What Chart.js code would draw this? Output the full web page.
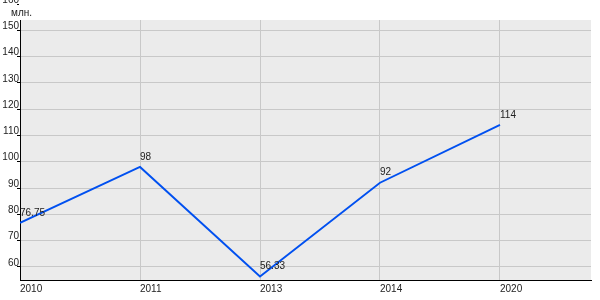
<!DOCTYPE html>
<html><head><meta charset="utf-8">
<script src="https://cdn.jsdelivr.net/npm/chart.js@4"></script>
<style>html,body{margin:0;padding:0;background:#fff}#w{width:600px;height:300px}</style>
</head><body><div id="w"><canvas id="c"></canvas></div>
<script>
const categories = ['2010', '2011', '2013', '2014', '2020'];
const values = [76.75, 98, 56.33, 92, 114];
const valueLabels = ['76.75', '98', '56.33', '92', '114'];
const unitLabel = 'млн.';

const FONT = '"Liberation Sans", Arial, sans-serif';

const bgPlugin = {
  id: 'bg',
  beforeDraw(chart) {
    const {ctx, chartArea: a} = chart;
    ctx.save();
    ctx.fillStyle = '#ebebeb';
    ctx.fillRect(a.left, a.top, a.right - a.left, a.bottom - a.top);
    ctx.restore();
  },
  afterDraw(chart) {
    const {ctx, chartArea: a} = chart;
    ctx.save();
    ctx.fillStyle = '#ffffff';
    ctx.fillRect(a.left - 1, 0, 600, 20);
    ctx.fillStyle = '#222';
    ctx.font = '10px ' + FONT;
    ctx.textAlign = 'left';
    ctx.textBaseline = 'middle';
    ctx.fillText(unitLabel, 11, 13);
    const meta = chart.getDatasetMeta(0);
    meta.data.forEach((p, i) => {
      ctx.fillText(valueLabels[i], p.x, p.y - 10);
    });
    ctx.restore();
  }
};

new Chart(document.getElementById('c'), {
  type: 'line',
  data: {
    datasets: [{
      data: values.map((v, i) => ({x: i, y: v})),
      borderColor: '#0050f0',
      borderWidth: 1.9,
      pointRadius: 0,
      tension: 0,
      fill: false
    }]
  },
  options: {
    responsive: true,
    maintainAspectRatio: false,
    animation: false,
    layout: {padding: {top: 3, right: 9, left: 0, bottom: 0}},
    plugins: {legend: {display: false}, tooltip: {enabled: false}},
    scales: {
      x: {
        type: 'linear',
        min: 0,
        max: 571 / 120,
        afterBuildTicks(s) { s.ticks = categories.map((c, i) => ({value: i})); },
        afterFit(s) { s.height = 20; },
        border: {color: '#000', width: 1},
        grid: {color: '#c8c8c8', drawTicks: false},
        ticks: {
          autoSkip: false,
          maxRotation: 0,
          align: 'start',
          padding: 3,
          color: '#222',
          font: {family: FONT, size: 10},
          callback: (v) => categories[v] ?? ''
        }
      },
      y: {
        min: 55,
        max: 160,
        afterBuildTicks(s) {
          const t = [];
          for (let v = 60; v <= 160; v += 10) t.push({value: v});
          s.ticks = t;
        },
        afterFit(s) { s.width = 20; },
        border: {color: '#000', width: 1},
        grid: {color: '#c8c8c8', tickLength: 3, tickColor: '#000'},
        ticks: {
          padding: -2,
          labelOffset: -4,
          color: '#222',
          font: {family: FONT, size: 10}
        }
      }
    }
  },
  plugins: [bgPlugin]
});
</script>
</body></html>
